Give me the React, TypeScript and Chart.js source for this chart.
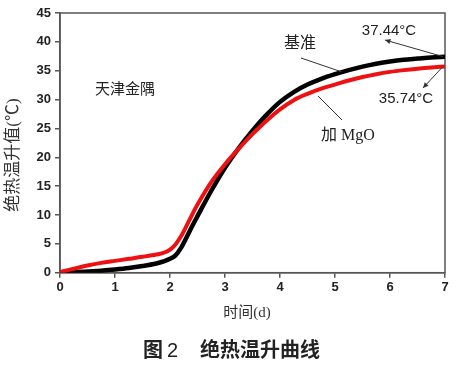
import React, { useEffect, useRef } from "react";
import { Chart, registerables } from "chart.js";

Chart.register(...registerables);

const days = [0, 0.25, 0.5, 0.75, 1, 1.25, 1.5, 1.75, 1.9, 2, 2.1, 2.2, 2.3, 2.4, 2.5, 2.75, 3, 3.25, 3.5, 3.75, 4, 4.25, 4.5, 4.75, 5, 5.25, 5.5, 5.75, 6, 6.25, 6.5, 6.75, 7];
const baseline = [0, 0.05, 0.2, 0.35, 0.55, 0.8, 1.15, 1.6, 2.0, 2.4, 3.0, 4.3, 6.1, 8.0, 9.8, 14.2, 18.2, 21.6, 24.6, 27.3, 29.6, 31.3, 32.6, 33.6, 34.4, 35.1, 35.7, 36.2, 36.6, 36.9, 37.1, 37.3, 37.44];
const mgo = [0.1, 0.7, 1.25, 1.7, 2.05, 2.4, 2.75, 3.15, 3.5, 4.0, 4.9, 6.3, 8.1, 10.0, 11.8, 15.7, 18.8, 21.5, 24.0, 26.3, 28.3, 29.9, 31.0, 31.9, 32.6, 33.3, 33.9, 34.4, 34.8, 35.1, 35.35, 35.55, 35.74];

const seriesNames = ["基准", "加 MgO"];
const regionLabel = "天津金隅";
const endLabels = ["37.44°C", "35.74°C"];
const xTitle = "时间(d)";
const yTitle = "绝热温升值(℃)";
const figNo = "图";
const figNum = "2";
const figTitle = "绝热温升曲线";

const W = 457;
const H = 369;

function arrow(ctx: CanvasRenderingContext2D, x1: number, y1: number, x2: number, y2: number) {
  ctx.beginPath();
  ctx.moveTo(x1, y1);
  ctx.lineTo(x2, y2);
  ctx.stroke();
  const a = Math.atan2(y2 - y1, x2 - x1);
  const L = 6, s = 0.45;
  ctx.beginPath();
  ctx.moveTo(x2, y2);
  ctx.lineTo(x2 - L * Math.cos(a - s), y2 - L * Math.sin(a - s));
  ctx.lineTo(x2 - L * Math.cos(a + s), y2 - L * Math.sin(a + s));
  ctx.closePath();
  ctx.fill();
}

const decor = {
  id: "decor",
  beforeDatasetsDraw(chart: any) {
    const { ctx, chartArea } = chart;
    ctx.save();
    ctx.strokeStyle = "#555";
    ctx.lineWidth = 1.5;
    ctx.strokeRect(chartArea.left, chartArea.top, chartArea.right - chartArea.left, chartArea.bottom - chartArea.top);
    ctx.restore();
  },
  afterDraw(chart: any) {
    const { ctx, scales } = chart;
    const xs = scales.x, ys = scales.y;
    ctx.save();
    ctx.fillStyle = "#222";
    ctx.textBaseline = "middle";
    ctx.textAlign = "center";
    ctx.font = "15px 'Liberation Serif', 'Noto Sans CJK SC'";
    ctx.fillText(regionLabel, 125, 90);
    ctx.font = "16px 'Liberation Serif', 'Noto Sans CJK SC'";
    ctx.fillText(seriesNames[0], 300, 44);
    ctx.fillText(seriesNames[1], 348, 136);
    ctx.font = "15px 'Liberation Sans', Arial";
    ctx.fillText(endLabels[0], 389, 31);
    ctx.fillText(endLabels[1], 406, 99);

    ctx.strokeStyle = "#333";
    ctx.fillStyle = "#333";
    ctx.lineWidth = 1;
    const endX = xs.getPixelForValue(days[days.length - 1]) - 2;
    const endYb = ys.getPixelForValue(baseline[baseline.length - 1]);
    const endYr = ys.getPixelForValue(mgo[mgo.length - 1]);
    arrow(ctx, endX, endYb, 385, 40);
    arrow(ctx, endX, endYr, 423, 88);
    ctx.beginPath();
    ctx.moveTo(301, 58);
    ctx.lineTo(342, 72);
    ctx.moveTo(318, 96);
    ctx.lineTo(342, 120);
    ctx.stroke();

    ctx.fillStyle = "#333";
    ctx.font = "15px 'Liberation Serif', 'Noto Sans CJK SC'";
    ctx.fillText(xTitle, 247, 313);
    ctx.save();
    ctx.translate(14, 155);
    ctx.rotate(-Math.PI / 2);
    ctx.font = "17px 'Liberation Serif', 'Noto Sans CJK SC'";
    ctx.fillText(yTitle, 0, 0);
    ctx.restore();

    ctx.fillStyle = "#222";
    ctx.textAlign = "left";
    ctx.textBaseline = "alphabetic";
    ctx.font = "bold 20px 'Noto Sans CJK SC'";
    ctx.fillText(figNo, 143, 357);
    ctx.font = "20px 'Liberation Sans', Arial";
    ctx.fillText(figNum, 167, 357);
    ctx.font = "bold 20px 'Noto Sans CJK SC'";
    ctx.fillText(figTitle, 200, 357);
    ctx.restore();
  },
};

export default function App() {
  const ref = useRef<HTMLCanvasElement | null>(null);
  useEffect(() => {
    if (!ref.current) return;
    const chart = new Chart(ref.current, {
      type: "line",
      data: {
        datasets: [
          {
            label: seriesNames[1],
            data: days.map((d, i) => ({ x: d, y: mgo[i] })),
            borderColor: "#ee1111",
            borderWidth: 4,
            pointRadius: 0,
            fill: false,
            cubicInterpolationMode: "monotone",
          },
          {
            label: seriesNames[0],
            data: days.map((d, i) => ({ x: d, y: baseline[i] })),
            borderColor: "#000000",
            borderWidth: 4.5,
            pointRadius: 0,
            fill: false,
            cubicInterpolationMode: "monotone",
          },
        ],
      },
      options: {
        responsive: false,
        animation: false,
        devicePixelRatio: 1,
        layout: { padding: { left: 0, right: 12, top: 13, bottom: 0 } },
        plugins: { legend: { display: false }, tooltip: { enabled: false }, title: { display: false } },
        scales: {
          x: {
            type: "linear",
            min: 0,
            max: 7,
            ticks: { stepSize: 1, color: "#222", font: { family: "'Liberation Sans', Arial", size: 13, weight: "bold" }, padding: 2 },
            grid: { display: true, drawOnChartArea: false, drawTicks: true, tickLength: 5, color: "#555", lineWidth: 1.5 },
            border: { display: true, color: "#555", width: 1.5 },
            afterFit: (s: any) => { s.height = H - 272.7; },
          },
          y: {
            min: 0,
            max: 45,
            ticks: { stepSize: 5, color: "#222", font: { family: "'Liberation Sans', Arial", size: 13, weight: "bold" }, padding: 4 },
            grid: { display: true, drawOnChartArea: false, drawTicks: true, tickLength: 5, color: "#555", lineWidth: 1.5 },
            border: { display: true, color: "#555", width: 1.5 },
            afterFit: (s: any) => { s.width = 60; },
          },
        },
      },
      plugins: [decor],
    } as any);
    return () => chart.destroy();
  }, []);
  return (
    <div style={{ position: "fixed", left: 0, top: 0, width: W, height: H, background: "#fff" }}>
      <canvas ref={ref} width={W} height={H} style={{ width: W, height: H, display: "block" }} />
    </div>
  );
}
